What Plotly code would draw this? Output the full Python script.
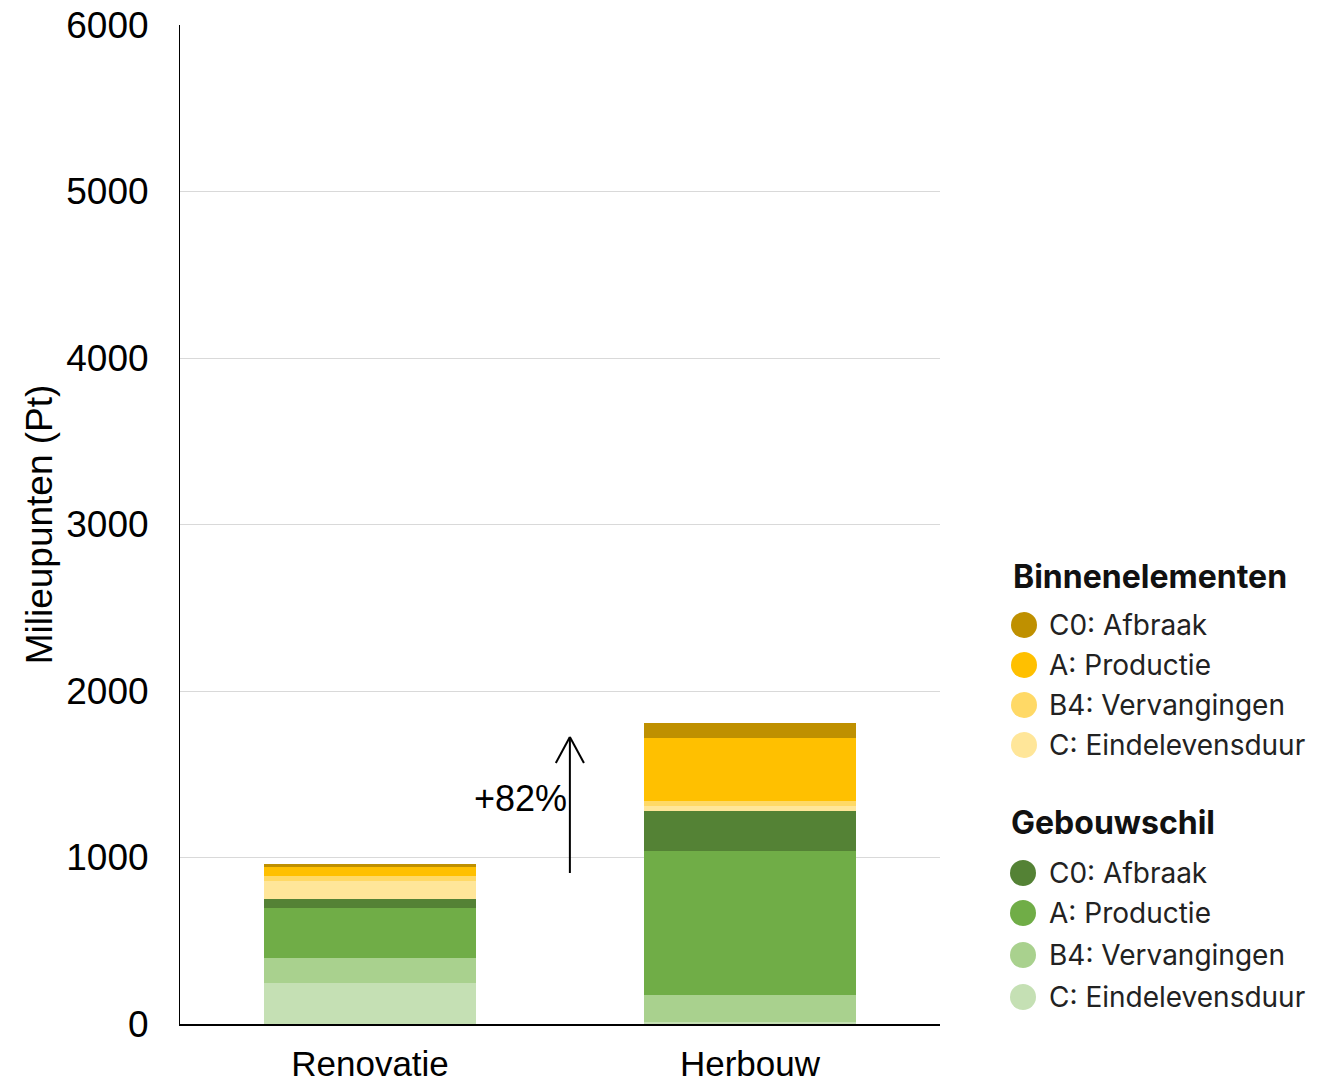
import plotly.graph_objects as go

categories = ["Renovatie", "Herbouw"]

# Gebouwschil (bottom of stack first)
geb_c = [245, 14]
geb_b4 = [152, 158]
geb_a = [298, 869]
geb_c0 = [54, 240]
# Binnenelementen
bin_c = [108, 30]
bin_b4 = [30, 30]
bin_a = [60, 374]
bin_c0 = [12, 90]

arrow_x = 0.526
arrow_y0 = 907
arrow_y1 = 1724
label_text = "+82%"

green_cols = ["#c5e0b4", "#a9d18e", "#70ad47", "#548235"]
yellow_cols = ["#ffe699", "#ffd966", "#ffc000", "#bf9000"]
names = ["C: Eindelevensduur", "B4: Vervangingen", "A: Productie", "C0: Afbraak"]
group_titles = ["Binnenelementen", "Gebouwschil"]

W, H = 1320, 1085
ML, MR, MT, MB = 180, 380, 25, 61
PW, PH = W - ML - MR, H - MT - MB


def px2x(px):
    return (px - ML) / PW


def px2y(py):
    return (H - MB - py) / PH


fig = go.Figure()

stack = [
    (geb_c, green_cols[0]), (geb_b4, green_cols[1]), (geb_a, green_cols[2]), (geb_c0, green_cols[3]),
    (bin_c, yellow_cols[0]), (bin_b4, yellow_cols[1]), (bin_a, yellow_cols[2]), (bin_c0, yellow_cols[3]),
]
for vals, col in stack:
    fig.add_trace(go.Bar(x=categories, y=vals, marker=dict(color=col, line=dict(width=0)),
                         showlegend=False))

# Arrow
fig.add_shape(type="line", xref="x", yref="y", x0=arrow_x, x1=arrow_x, y0=arrow_y0, y1=arrow_y1,
              line=dict(color="black", width=2))
fig.add_shape(type="line", xref="x", yref="y", x0=arrow_x - 0.037, x1=arrow_x, y0=arrow_y1 - 156, y1=arrow_y1,
              line=dict(color="black", width=2))
fig.add_shape(type="line", xref="x", yref="y", x0=arrow_x + 0.037, x1=arrow_x, y0=arrow_y1 - 156, y1=arrow_y1,
              line=dict(color="black", width=2))
fig.add_annotation(x=0.395, y=1357, xref="x", yref="y", text=label_text, showarrow=False,
                   font=dict(size=36, color="black", family="Liberation Sans, Arial"))

# Manual legend (circles + text)
leg_font = "Inter, Roboto, sans-serif"
groups = [
    (group_titles[0], yellow_cols, 576, [625, 665, 705, 745], 1011, 1024),
    (group_titles[1], green_cols, 822, [873, 913, 955, 997], 1009, 1023),
]
for title, cols, ty, item_ys, tx, cx in groups:
    fig.add_annotation(xref="paper", yref="paper", x=px2x(tx), y=px2y(ty), xanchor="left", yanchor="middle",
                       text="<b>" + title + "</b>", showarrow=False,
                       font=dict(size=32, color="#111", family=leg_font))
    for k, iy in zip([3, 2, 1, 0], item_ys):
        r = 13
        fig.add_shape(type="circle", xref="paper", yref="paper",
                      x0=px2x(cx - r), x1=px2x(cx + r), y0=px2y(iy + r), y1=px2y(iy - r),
                      fillcolor=cols[k], line=dict(width=0))
        fig.add_annotation(xref="paper", yref="paper", x=px2x(1047), y=px2y(iy), xanchor="left",
                           yanchor="middle", text=names[k], showarrow=False,
                           font=dict(size=28, color="#222", family=leg_font))

fig.update_layout(
    width=W, height=H,
    barmode="stack", bargap=0.44,
    plot_bgcolor="white", paper_bgcolor="white",
    margin=dict(l=ML, r=MR, t=MT, b=MB, autoexpand=False),
    font=dict(family="Liberation Sans, Arial", color="black"),
    showlegend=False,
    xaxis=dict(showline=True, linecolor="black", linewidth=2, ticks="", automargin=False,
               tickfont=dict(size=35), showgrid=False, range=[-0.5, 1.5], ticklabelstandoff=8),
    yaxis=dict(range=[0, 6000], dtick=1000, showline=True, linecolor="black", linewidth=1,
               showgrid=True, gridcolor="#d9d9d9", gridwidth=1, zeroline=False, automargin=False,
               tickfont=dict(size=37), ticks="", ticklen=0, ticklabelstandoff=23,
               title=dict(text="Milieupunten (Pt)", font=dict(size=37), standoff=2)),
)

fig.write_html("out.html")
